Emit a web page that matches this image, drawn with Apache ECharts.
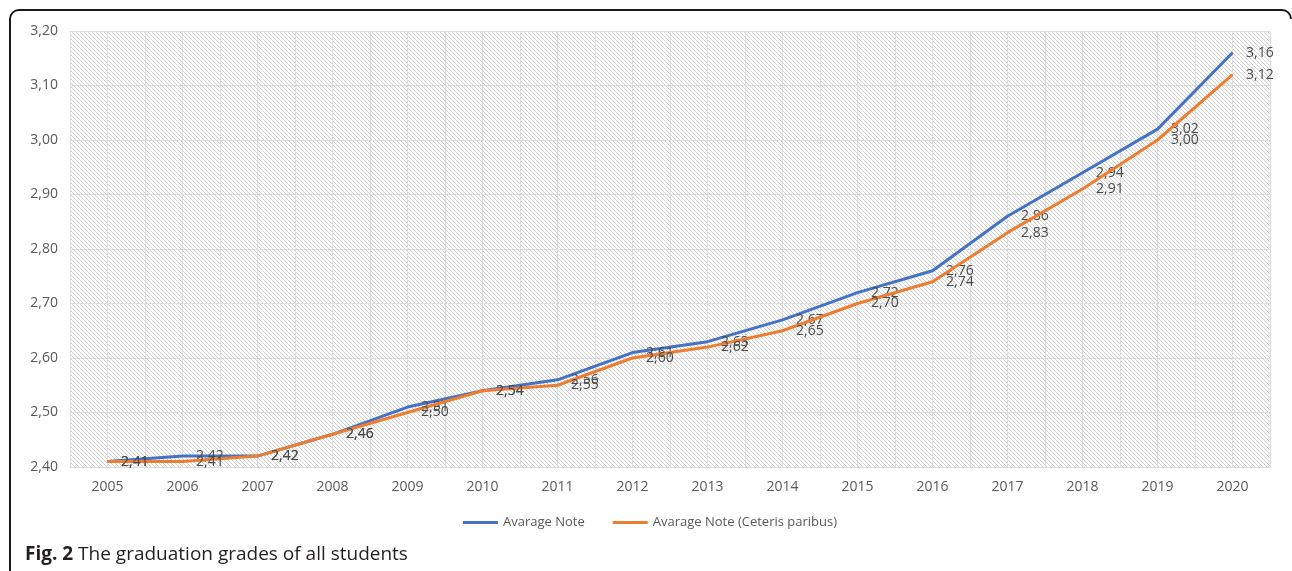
<!DOCTYPE html>
<html>
<head>
<meta charset="utf-8">
<script src="https://cdn.jsdelivr.net/npm/echarts@6/dist/echarts.min.js"></script>
<style>
html,body{margin:0;padding:0;background:#fff;}
#chart{width:1292px;height:571px;}
</style>
</head>
<body>
<div id="chart"></div>
<script>
const years = ['2005','2006','2007','2008','2009','2010','2011','2012','2013','2014','2015','2016','2017','2018','2019','2020'];
const avgNote = [2.41,2.42,2.42,2.46,2.51,2.54,2.56,2.61,2.63,2.67,2.72,2.76,2.86,2.94,3.02,3.16];
const avgNoteCeteris = [2.41,2.41,2.42,2.46,2.50,2.54,2.55,2.60,2.62,2.65,2.70,2.74,2.83,2.91,3.00,3.12];
const seriesNames = ['Avarage Note','Avarage Note (Ceteris paribus)'];
const captionBold = 'Fig. 2';
const captionText = ' The graduation grades of all students';

const fmt = v => Number(v).toFixed(2).replace('.', ',');

// hatch pattern
const tile = document.createElement('canvas');
tile.width = 4; tile.height = 4;
const tctx = tile.getContext('2d');
tctx.fillStyle = '#ffffff';
tctx.fillRect(0,0,4,4);
tctx.fillStyle = '#cfcfcf';
for (let i = 0; i < 4; i++) { tctx.fillRect(i, i, 1, 1); }

const chart = echarts.init(document.getElementById('chart'), null, {renderer:'canvas'});
const FONT = '"Open Sans", sans-serif';

const lbl = {
  show: true, position: 'right', distance: 13,
  fontFamily: FONT, fontSize: 14, color: '#4a4a4a',
  formatter: p => fmt(p.value)
};
const frameStyle = {fill: null, stroke: '#1a1a1a', lineWidth: 2};

chart.setOption({
  animation: false,
  backgroundColor: '#ffffff',
  grid: {
    left: 70, top: 31, width: 1200, height: 436,
    show: true, borderWidth: 0,
    backgroundColor: {image: tile, repeat: 'repeat'}
  },
  xAxis: [{
    type: 'category', data: years, boundaryGap: true,
    axisLine: {show: true, lineStyle: {color: '#d9d9d9', width: 1}},
    axisTick: {show: false},
    axisLabel: {fontFamily: FONT, fontSize: 14, color: '#595959', margin: 13},
    splitLine: {show: false}
  }, {
    type: 'value', min: 0, max: 32, interval: 1, show: true, position: 'bottom',
    axisLine: {show: false}, axisTick: {show: false}, axisLabel: {show: false},
    splitLine: {show: true, lineStyle: {color: '#dedede', width: 1}}
  }],
  yAxis: {
    type: 'value', min: 2.4, max: 3.2, interval: 0.1,
    axisLine: {show: false}, axisTick: {show: false},
    axisLabel: {fontFamily: FONT, fontSize: 14, color: '#595959', margin: 12, formatter: v => fmt(v)},
    splitLine: {show: true, lineStyle: {color: '#dedede', width: 1}}
  },
  legend: {
    left: 463, top: 516, padding: 0,
    itemWidth: 35, itemHeight: 3, itemGap: 28,
    textStyle: {fontFamily: FONT, fontSize: 13, color: '#595959'},
    data: [
      {name: seriesNames[0], icon: 'rect'},
      {name: seriesNames[1], icon: 'rect'}
    ]
  },
  series: [{
    name: seriesNames[0], type: 'line', data: avgNote,
    symbol: 'circle', symbolSize: 1, showSymbol: true,
    lineStyle: {color: '#4472C4', width: 3},
    itemStyle: {color: '#4472C4'},
    label: lbl, z: 2
  }, {
    name: seriesNames[1], type: 'line', data: avgNoteCeteris,
    symbol: 'circle', symbolSize: 1, showSymbol: true,
    lineStyle: {color: '#ED7D31', width: 3},
    itemStyle: {color: '#ED7D31'},
    label: lbl, z: 3
  }],
  graphic: [{
    type: 'polyline', silent: true,
    shape: {points: [[10, 575], [10, 19]]}, style: frameStyle
  }, {
    type: 'polyline', silent: true,
    shape: {points: [[19, 10], [1282, 10]]}, style: frameStyle
  }, {
    type: 'arc', silent: true,
    shape: {cx: 19, cy: 19, r: 9, startAngle: Math.PI, endAngle: Math.PI * 1.5, clockwise: true},
    style: frameStyle
  }, {
    type: 'arc', silent: true,
    shape: {cx: 1282, cy: 19, r: 9, startAngle: Math.PI * 1.5, endAngle: Math.PI * 2, clockwise: true},
    style: frameStyle
  }, {
    type: 'text', left: 25, top: 545,
    style: {
      text: '{b|' + captionBold + '}{n|' + captionText + '}',
      rich: {
        b: {fontFamily: FONT, fontSize: 19, fontWeight: 'bold', fill: '#231f20'},
        n: {fontFamily: FONT, fontSize: 19, fill: '#231f20'}
      }
    }
  }]
});
</script>
</body>
</html>
